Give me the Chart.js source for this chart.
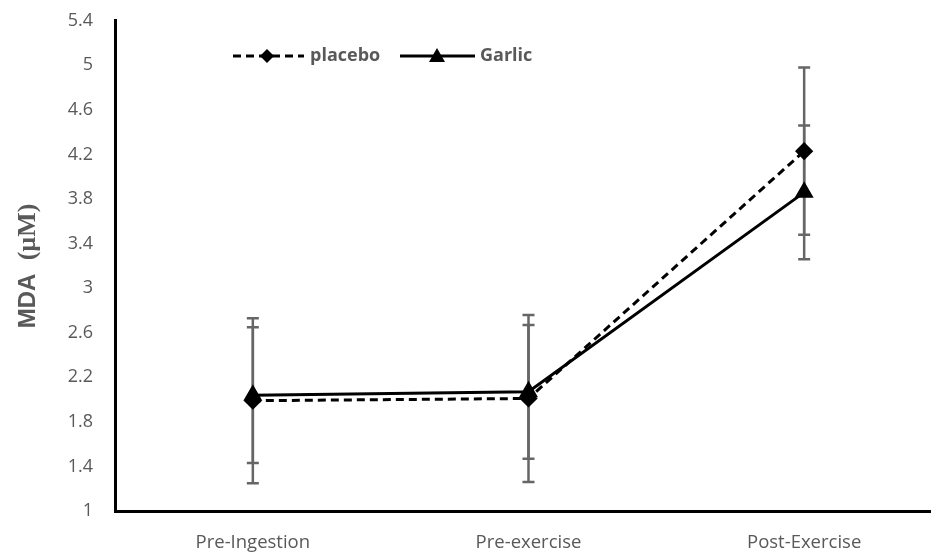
<!DOCTYPE html>
<html>
<head>
<meta charset="utf-8">
<script src="https://cdn.jsdelivr.net/npm/chart.js@4"></script>
<style>
    html, body { margin: 0; padding: 0; background: #fff; overflow: hidden; }
    #wrap { width: 953px; height: 565px; margin-top: -12px; position: relative; }
</style>
</head>
<body>
<div id="wrap"><canvas id="mda-chart"></canvas></div>
<script>
const categories = ['Pre-Ingestion', 'Pre-exercise', 'Post-Exercise'];
const placeboMean = [1.99, 2.01, 4.23];
const placeboSD = [0.74, 0.75, 0.75];
const garlicMean = [2.04, 2.07, 3.86];
const garlicSD = [0.61, 0.60, 0.60];

const TEXT_GREY = '#595959';

// error bars, drawn under the markers
const errorBars = {
    id: 'errorBars',
    beforeDatasetsDraw(chart) {
        const { ctx, scales: { x, y } } = chart;
        const sets = [[placeboMean, placeboSD], [garlicMean, garlicSD]];
        ctx.save();
        ctx.strokeStyle = '#666';
        ctx.lineWidth = 2.5;
        sets.forEach(([mean, sd]) => {
            mean.forEach((m, i) => {
                const px = x.getPixelForValue(i);
                const top = y.getPixelForValue(m + sd[i]);
                const bot = y.getPixelForValue(m - sd[i]);
                ctx.beginPath();
                ctx.moveTo(px, top); ctx.lineTo(px, bot);
                ctx.moveTo(px - 6, top); ctx.lineTo(px + 6, top);
                ctx.moveTo(px - 6, bot); ctx.lineTo(px + 6, bot);
                ctx.stroke();
            });
        });
        ctx.restore();
    }
};

// legend with line samples and a mixed-font axis title
const extras = {
    id: 'extras',
    afterDraw(chart) {
        const { ctx, chartArea } = chart;
        ctx.save();
        ctx.strokeStyle = '#000';
        ctx.fillStyle = '#000';
        ctx.lineWidth = 3;
        const ly = 68; // page y 56 (wrap is shifted up 12px)

        ctx.setLineDash([8, 5]);
        ctx.beginPath(); ctx.moveTo(233, ly); ctx.lineTo(304, ly); ctx.stroke();
        ctx.setLineDash([]);
        ctx.beginPath(); ctx.moveTo(400, ly); ctx.lineTo(475, ly); ctx.stroke();

        ctx.beginPath();
        ctx.moveTo(267, ly - 7); ctx.lineTo(274, ly); ctx.lineTo(267, ly + 7); ctx.lineTo(260, ly);
        ctx.closePath(); ctx.fill();
        ctx.beginPath();
        ctx.moveTo(437, ly - 8); ctx.lineTo(445, ly + 6); ctx.lineTo(429, ly + 6);
        ctx.closePath(); ctx.fill();

        ctx.fillStyle = TEXT_GREY;
        ctx.font = 'bold 18px "Open Sans"';
        ctx.textBaseline = 'middle';
        ctx.fillText('placebo', 310, ly);
        ctx.fillText('Garlic', 480, ly);

        // y axis title
        const cy = (chartArea.top + chartArea.bottom) / 2;
        ctx.translate(28, cy);
        ctx.rotate(-Math.PI / 2);
        const a = 'MDA  ';
        ctx.font = 'bold 24px "Liberation Sans"';
        const wa = ctx.measureText(a).width;
        ctx.font = 'bold 26px "Liberation Serif"';
        const b = '(\u00B5M)';
        const wb = ctx.measureText(b).width;
        const start = -(wa + wb) / 2;
        ctx.font = 'bold 24px "Liberation Sans"';
        ctx.fillText(a, start, 0);
        ctx.font = 'bold 26px "Liberation Serif"';
        ctx.fillText(b, start + wa, 0);
        ctx.restore();
    }
};

new Chart(document.getElementById('mda-chart'), {
    type: 'line',
    data: {
        labels: categories,
        datasets: [{
            label: 'placebo',
            data: placeboMean,
            borderColor: '#000',
            backgroundColor: '#000',
            borderWidth: 3,
            borderDash: [8, 5],
            pointStyle: 'rectRot',
            pointRadius: 7,
            pointHoverRadius: 7,
            tension: 0
        }, {
            label: 'Garlic',
            data: garlicMean,
            borderColor: '#000',
            backgroundColor: '#000',
            borderWidth: 3,
            pointStyle: 'triangle',
            pointRadius: 8,
            pointHoverRadius: 8,
            tension: 0
        }]
    },
    plugins: [errorBars, extras],
    options: {
        responsive: true,
        maintainAspectRatio: false,
        animation: false,
        layout: { padding: { top: 8, right: 0, left: 0, bottom: 0 } },
        plugins: { legend: { display: false }, tooltip: { enabled: false } },
        scales: {
            x: {
                offset: true,
                grid: { display: false, drawTicks: false },
                border: { color: '#000', width: 3 },
                ticks: { color: TEXT_GREY, font: { family: 'Open Sans', size: 18.5 }, padding: 21 },
                afterFit: s => { s.height = 42; }
            },
            y: {
                min: 1,
                max: 5.4,
                grid: { display: false, drawTicks: false },
                border: { color: '#000', width: 3 },
                ticks: {
                    stepSize: 0.4,
                    color: TEXT_GREY,
                    font: { family: 'Open Sans', size: 18 },
                    padding: 22,
                    callback: v => String(Number(v.toFixed(1)))
                },
                afterFit: s => { s.width = 115; }
            }
        }
    }
});
</script>
</body>
</html>
